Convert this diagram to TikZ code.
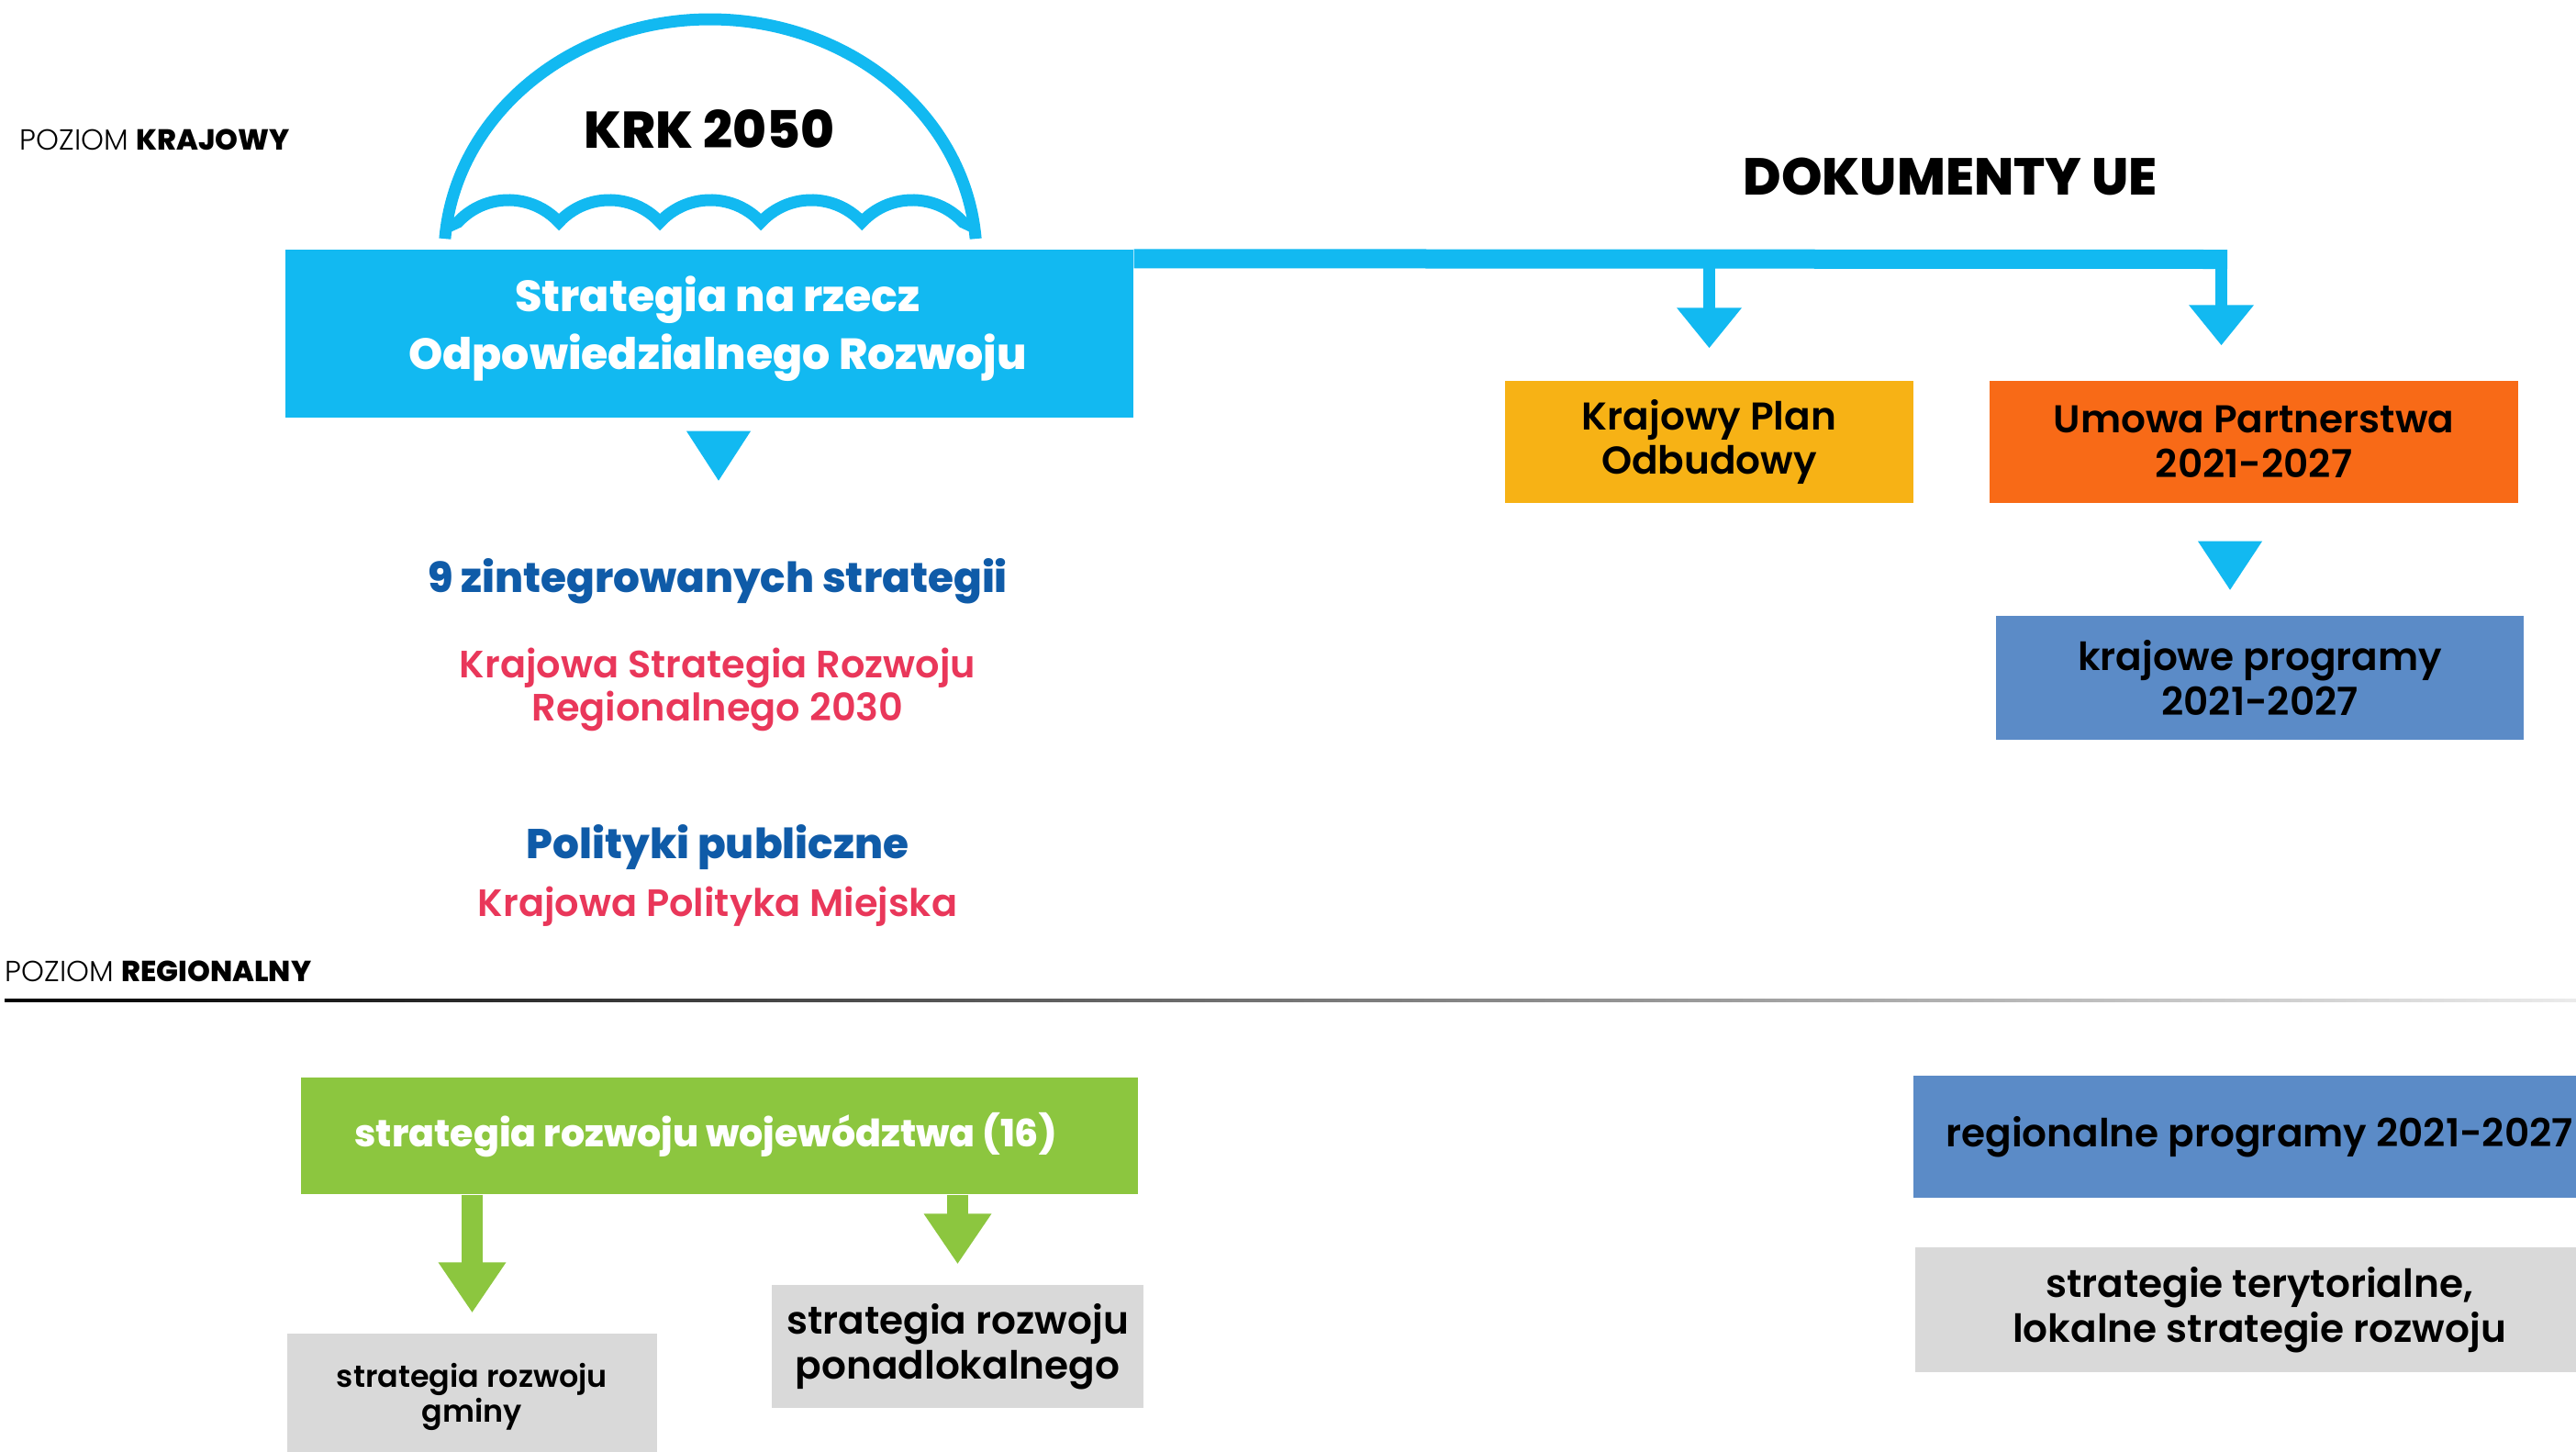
\documentclass[tikz,border=0pt]{standalone}
\usepackage{fontspec}
\setmainfont{Poppins}
\newfontfamily\popl{Poppins Light}
\newfontfamily\popsb{Poppins SemiBold}
\newfontfamily\popb{Poppins Bold}
\newfontfamily\popxb{Poppins ExtraBold}
\usetikzlibrary{arrows.meta}
\definecolor{sky}{RGB}{18,185,241}
\definecolor{navy}{RGB}{15,91,168}
\definecolor{rose}{RGB}{233,55,90}
\definecolor{amber}{RGB}{247,178,21}
\definecolor{tang}{RGB}{248,106,23}
\definecolor{steel}{RGB}{91,139,199}
\definecolor{leaf}{RGB}{140,198,63}
\definecolor{pale}{RGB}{217,217,217}

\begin{document}
\begin{tikzpicture}[
 b/.style={inner sep=0pt,align=center,font=\popsb\fontsize{12}{13.9}\selectfont},
 hd/.style={font=\popxb\fontsize{12.9}{15}\selectfont,text=navy},
 rd/.style={align=center,font=\popsb\fontsize{11.8}{13.4}\selectfont,text=rose},
 lvl/.style={anchor=west,inner sep=0pt,font=\popl\fontsize{9}{11}\selectfont},
 dome/.style={draw=sky,line width=1.3mm},
 bstem/.style={-{Triangle[length=4.4mm,width=6.8mm]},draw=sky,line width=1.3mm},
 gstem/.style={-{Triangle[length=5.5mm,width=7mm]},draw=leaf,line width=2.3mm,shorten >=2.2mm}]
\useasboundingbox (0,0) rectangle (28.07,-15.81);
% Level labels and the fading divider.
\node[lvl] (lk) at (.21,-1.52) {POZIOM {\popxb KRAJOWY}};
\node[lvl] (lr) at (.05,-10.58) {POZIOM {\popxb REGIONALNY}};
\shade[left color=black,right color=black!8] (.05,-10.885) rectangle (28.07,-10.915);
% Umbrella over the national strategy.
\coordinate (umb) at (7.74,-2.80);
\draw[dome] (umb) ++(175.6:2.90 and 2.59) arc[start angle=175.6,end angle=4.4,x radius=2.90,y radius=2.59];
\draw[dome] (4.86,-2.48) -- (4.99,-2.42) \foreach \k in {1,...,5} {arc[start angle=137.2,end angle=42.8,radius=.75]} -- (10.62,-2.48);
\node[font=\popxb\fontsize{16}{18}\selectfont] (krk) at (7.73,-1.41) {KRK 2050};
\node[fill=sky,minimum width=9.24cm,minimum height=1.83cm] (sor) at (7.73,-3.635) {};
\node[b,text=white,font=\popxb\fontsize{13.5}{17.9}\selectfont] (sorT) at (7.82,-3.58) {Strategia na rzecz\\Odpowiedzialnego Rozwoju};
\fill[sky] ([xshift=1mm,yshift=-6.8mm]sor.south) -- ++(-.35,.54) -- ++(.70,0) -- cycle;
% National strategies below.
\node[hd] (zs) at (7.82,-6.33) {9 zintegrowanych strategii};
\node[rd] (ksrr) at (7.82,-7.51) {Krajowa Strategia Rozwoju\\Regionalnego 2030};
\node[hd] (pp) at (7.82,-9.23) {Polityki publiczne};
\node[rd] (kpm) at (7.82,-9.88) {Krajowa Polityka Miejska};
% EU documents.
\node[font=\popxb\fontsize{16.1}{18}\selectfont] (ue) at (21.25,-1.92) {DOKUMENTY UE};
\node[b,fill=amber,minimum width=4.45cm,minimum height=1.33cm] (kpo) at (18.625,-4.815) {Krajowy Plan\\Odbudowy};
\node[b,fill=tang,minimum width=5.76cm,minimum height=1.33cm] (up) at (24.56,-4.815) {Umowa Partnerstwa\\2021-2027};
\node[b,fill=steel,minimum width=5.75cm,minimum height=1.35cm] (kp) at (24.625,-7.385) {krajowe programy\\2021-2027};
\coordinate (busE) at (24.27,-2.825);
\coordinate (upin) at ([xshift=-3.55mm]up.north);
\draw[draw=sky,line width=2.1mm] ([yshift=-1.05mm]sor.north east) -- (busE);
\draw[bstem,shorten >=3.5mm] (kpo.north |- busE) -- (kpo.north);
\draw[bstem,shorten >=3.8mm] (upin |- busE) -- (upin);
\fill[sky] ([xshift=-2.6mm,yshift=-9.4mm]up.south) -- ++(-.35,.53) -- ++(.70,0) -- cycle;
% Regional level.
\node[fill=leaf,minimum width=9.12cm,minimum height=1.27cm] (woj) at (7.84,-12.375) {};
\node[b,text=white,font=\popxb\fontsize{11.7}{13.9}\selectfont] (wojT) at (7.69,-12.37) {strategia rozwoju województwa (16)};
\node[b,fill=pale,minimum width=4.03cm,minimum height=1.37cm,font=\popsb\fontsize{9.5}{10.8}\selectfont] (gm) at (5.145,-15.215) {strategia rozwoju\\gminy};
\node[b,fill=pale,minimum width=4.05cm,minimum height=1.34cm] (pl) at (10.435,-14.67) {strategia rozwoju\\ponadlokalnego};
\draw[gstem] (woj.south -| gm.north) -- (gm.north);
\draw[gstem] (woj.south -| pl.north) -- (pl.north);
\node[b,fill=steel,minimum width=7.55cm,minimum height=1.33cm] (rp) at (24.62,-12.385) {regionalne programy 2021-2027};
\node[b,fill=pale,minimum width=7.5cm,minimum height=1.36cm] (st) at (24.62,-14.27) {strategie terytorialne,\\lokalne strategie rozwoju};
\end{tikzpicture}
\end{document}
